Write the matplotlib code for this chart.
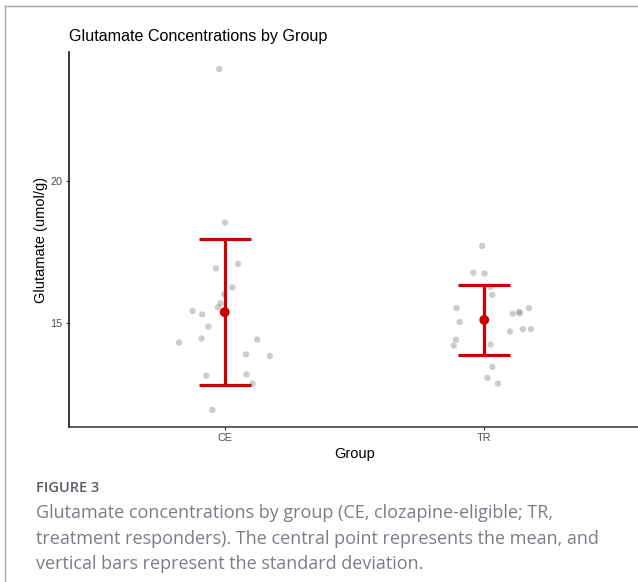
import numpy as np
import matplotlib
matplotlib.use("Agg")
import matplotlib.pyplot as plt
from matplotlib.lines import Line2D

# ---- data ----
groups = ["CE", "TR"]
ce_values = [23.96, 18.55, 17.09, 16.93, 16.26, 16.02, 15.70, 15.56, 15.43, 15.31,
             14.88, 14.46, 14.42, 14.32, 13.90, 13.84, 13.19, 13.15, 12.87, 11.94]
ce_jitter = [-0.021, 0.001, 0.051, -0.034, 0.029, -0.002, -0.016, -0.026, -0.124, -0.087,
             -0.063, -0.089, 0.125, -0.176, 0.082, 0.174, 0.084, -0.071, 0.107, -0.048]
tr_values = [17.72, 16.78, 16.75, 16.28, 16.00, 15.53, 15.04, 15.33, 15.40, 15.35,
             15.53, 14.71, 14.79, 14.79, 14.42, 14.21, 14.25, 13.46, 13.07, 12.87]
tr_jitter = [-0.008, -0.042, 0.001, 0.024, 0.031, -0.107, -0.095, 0.110, 0.135, 0.136,
             0.172, 0.099, 0.149, 0.180, -0.109, -0.118, 0.024, 0.031, 0.012, 0.053]
y_ticks = [15, 20]

title = "Glutamate Concentrations by Group"
xlabel = "Group"
ylabel = "Glutamate (umol/g)"
fig_label = "FIGURE 3"
caption_lines = [
    "Glutamate concentrations by group (CE, clozapine-eligible; TR,",
    "treatment responders). The central point represents the mean, and",
    "vertical bars represent the standard deviation.",
]

W, H = 638, 582
fig = plt.figure(figsize=(W / 100, H / 100), dpi=100)
fig.patch.set_facecolor("white")

ax = fig.add_axes([69 / W, 1 - 427 / H, (640 - 69) / W, (427 - 52) / H])
ax.set_facecolor("white")

all_vals = [ce_values, tr_values]
all_jit = [ce_jitter, tr_jitter]
red = "#cc0000"
for i, (vals, jit) in enumerate(zip(all_vals, all_jit)):
    xpos = i + 1
    ax.scatter(np.array(jit) + xpos, vals, s=21, color="gray", alpha=0.4,
               edgecolors="none", zorder=2)
    m = np.mean(vals)
    sd = np.std(vals, ddof=1)
    ax.errorbar([xpos], [m], yerr=[sd], fmt="none", ecolor=red, elinewidth=2.3,
                capsize=18.5, capthick=2.3, zorder=3)
    ax.scatter([xpos], [m], s=50, color=red, edgecolors="none", zorder=4)

allv = np.concatenate([ce_values, tr_values])
rng = allv.max() - allv.min()
ax.set_ylim(allv.min() - 0.05 * rng, allv.max() + 0.05 * rng)
ax.set_xlim(0.4, 2.6)
ax.set_xticks([1, 2])
ax.set_xticklabels(groups)
ax.set_yticks(y_ticks)

for s in ["top", "right"]:
    ax.spines[s].set_visible(False)
ax.spines["left"].set_color("black")
ax.spines["bottom"].set_color("#333333")
ax.spines["left"].set_linewidth(1.1)
ax.spines["bottom"].set_linewidth(1.1)
ax.tick_params(axis="both", length=2.5, width=0.8, color="#333333",
               labelsize=7.8, labelcolor="#4d4d4d", pad=2)
for lab in ax.get_xticklabels() + ax.get_yticklabels():
    lab.set_family("Liberation Sans")

ax.set_xlabel(xlabel, fontsize=10.5, family="Liberation Sans", color="black", labelpad=3)
ax.set_ylabel(ylabel, fontsize=10.5, family="Liberation Sans", color="black", labelpad=2)
fig.text(69 / W, 1 - 37 / H, title, fontsize=11.6, family="Liberation Sans",
         color="black", ha="left", va="center")

fig.text(36 / W, 1 - 488 / H, fig_label, fontsize=10.5, family="Open Sans",
         fontweight="semibold", color="#5c5c66", ha="left", va="center")
for k, line in enumerate(caption_lines):
    fig.text(36 / W, 1 - (513 + 25.5 * k) / H, line, fontsize=13, family="Open Sans",
             color="#7c7c86", ha="left", va="center")

# page frame lines
fig.add_artist(Line2D([4.5 / W, 4.5 / W], [0, 1 - 6 / H], transform=fig.transFigure,
                      color="#a6a6ae", lw=1.0))
fig.add_artist(Line2D([4.5 / W, 1], [1 - 6 / H, 1 - 6 / H], transform=fig.transFigure,
                      color="#a6a6ae", lw=1.0))

fig.savefig("out.png", dpi=100)
